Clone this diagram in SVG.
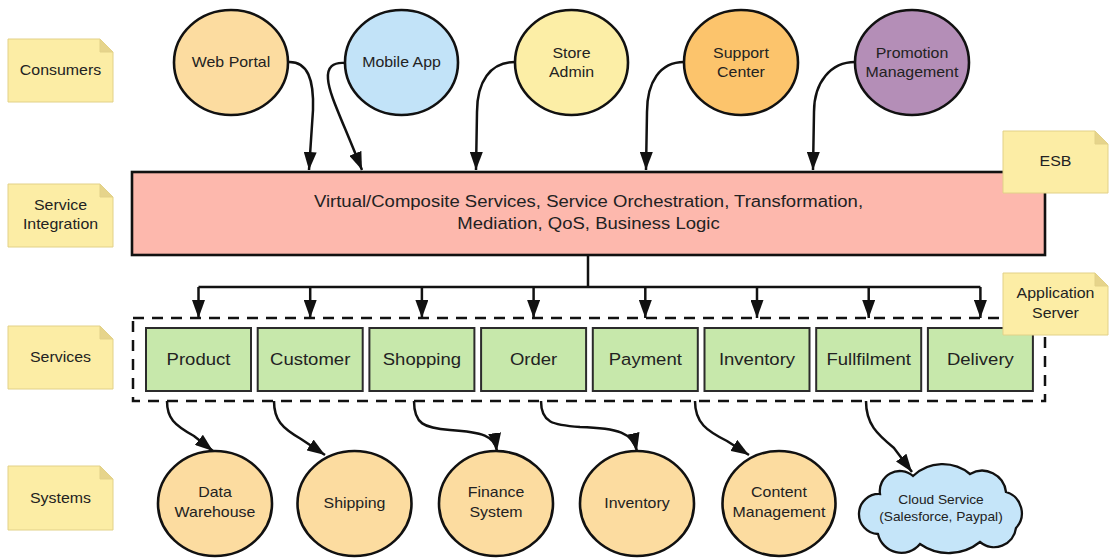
<svg xmlns="http://www.w3.org/2000/svg" width="1114" height="559" viewBox="0 0 1114 559">
<style>
.note{fill:#FCEDA5;stroke:#E2D188;stroke-width:1}
.fold{fill:#E6D48B;stroke:#E2D188;stroke-width:1}
.circ{stroke:#111;stroke-width:2.6}
.svc{fill:#C7E8AB;stroke:#2b2b2b;stroke-width:2}
.conn{fill:none;stroke:#111;stroke-width:2.5;marker-end:url(#ah)}
.line{fill:none;stroke:#111;stroke-width:2.5}
text{font-family:"Liberation Sans",Arial,sans-serif;fill:#222;text-anchor:middle;transform-box:fill-box;transform-origin:center;transform:scaleX(1.09)}
.t15{font-size:14.6px}
.t17{font-size:17px}
.t13{font-size:12.6px}
</style>
<defs>
<marker id="ah" viewBox="0 0 18 13" refX="18" refY="6.5" markerWidth="18" markerHeight="13" markerUnits="userSpaceOnUse" orient="auto">
<path d="M0,0 L18,6.5 L0,13 Z" fill="#111"/>
</marker>
</defs>

<g id="connectors">
<path class="conn" d="M288,62 C308,61 314,80 313,110 L309,170"/>
<path class="conn" d="M345,63 C333,62 327,67 328,79 C329,94 340,115 362,170"/>
<path class="conn" d="M515,62 C490,62 477,82 477,112 L476,170"/>
<path class="conn" d="M684,62 C660,62 647,82 647,112 L646,170"/>
<path class="conn" d="M855,62 C831,62 814,82 814,112 L813,170"/>
<path class="line" d="M588,255 V287"/>
<path class="line" d="M198.5,287 H980.4"/>
<path class="conn" d="M198.5,287 V318"/>
<path class="conn" d="M310.2,287 V318"/>
<path class="conn" d="M421.9,287 V318"/>
<path class="conn" d="M533.6,287 V318"/>
<path class="conn" d="M645.3,287 V318"/>
<path class="conn" d="M757,287 V318"/>
<path class="conn" d="M868.7,287 V318"/>
<path class="conn" d="M980.4,287 V318"/>
<path class="conn" d="M167,401 C167,418 174,425 194,436 L213,451"/>
<path class="conn" d="M274,401 C274,420 282,428 301,439 L325,455"/>
<path class="conn" d="M414,401 C414,424 424,428 450,430 C482,432 495,436 497,451"/>
<path class="conn" d="M541,401 C541,423 553,425 580,427 C618,428 633,433 637,451"/>
<path class="conn" d="M695,401 C695,423 707,431 727,441 L749,455"/>
<path class="conn" d="M866,401 C866,424 877,434 894,448 L912,472"/>
</g>

<g id="esb-bus">
<rect x="132" y="172" width="913" height="83" fill="#FDB8AD" stroke="#111" stroke-width="2.6"/>
<text class="t17" x="588.5" y="207">Virtual/Composite Services, Service Orchestration, Transformation,</text>
<text class="t17" x="588.5" y="229">Mediation, QoS, Business Logic</text>
</g>

<g id="app-server-box">
<rect x="133" y="318" width="912" height="83" fill="none" stroke="#111" stroke-width="2.5" stroke-dasharray="11 8"/>
</g>

<g id="web-portal"><ellipse class="circ" cx="231" cy="62.5" rx="57" ry="52.5" fill="#FCDCA0"/><text class="t15" x="231" y="67.5">Web Portal</text></g>
<g id="mobile-app"><ellipse class="circ" cx="401.5" cy="62.5" rx="56.5" ry="52.5" fill="#C2E3F8"/><text class="t15" x="401.5" y="67.5">Mobile App</text></g>
<g id="store-admin"><ellipse class="circ" cx="571.5" cy="62.5" rx="56.5" ry="52.5" fill="#FCEEA6"/><text class="t15" x="571.5" y="58">Store</text><text class="t15" x="571.5" y="77">Admin</text></g>
<g id="support-center"><ellipse class="circ" cx="741" cy="62.5" rx="57" ry="52.5" fill="#FCC46C"/><text class="t15" x="741" y="58">Support</text><text class="t15" x="741" y="77">Center</text></g>
<g id="promotion-management"><ellipse class="circ" cx="912" cy="62.5" rx="57" ry="52.5" fill="#B48EB7"/><text class="t15" x="912" y="58">Promotion</text><text class="t15" x="912" y="77">Management</text></g>

<g id="svc-product"><rect class="svc" x="146" y="328" width="105" height="63"/><text class="t17" x="198.5" y="365.5">Product</text></g>
<g id="svc-customer"><rect class="svc" x="257.7" y="328" width="105" height="63"/><text class="t17" x="310.2" y="365.5">Customer</text></g>
<g id="svc-shopping"><rect class="svc" x="369.4" y="328" width="105" height="63"/><text class="t17" x="421.9" y="365.5">Shopping</text></g>
<g id="svc-order"><rect class="svc" x="481.1" y="328" width="105" height="63"/><text class="t17" x="533.6" y="365.5">Order</text></g>
<g id="svc-payment"><rect class="svc" x="592.8" y="328" width="105" height="63"/><text class="t17" x="645.3" y="365.5">Payment</text></g>
<g id="svc-inventory"><rect class="svc" x="704.5" y="328" width="105" height="63"/><text class="t17" x="757" y="365.5">Inventory</text></g>
<g id="svc-fullfilment"><rect class="svc" x="816.2" y="328" width="105" height="63"/><text class="t17" x="868.7" y="365.5">Fullfilment</text></g>
<g id="svc-delivery"><rect class="svc" x="927.9" y="328" width="105" height="63"/><text class="t17" x="980.4" y="365.5">Delivery</text></g>

<g id="sys-data-warehouse"><ellipse class="circ" cx="215" cy="503.5" rx="57" ry="52.5" fill="#FCDCA0"/><text class="t15" x="215" y="497">Data</text><text class="t15" x="215" y="517">Warehouse</text></g>
<g id="sys-shipping"><ellipse class="circ" cx="354.5" cy="503.5" rx="57" ry="52.5" fill="#FCDCA0"/><text class="t15" x="354.5" y="508.5">Shipping</text></g>
<g id="sys-finance"><ellipse class="circ" cx="496" cy="503.5" rx="57" ry="52.5" fill="#FCDCA0"/><text class="t15" x="496" y="497">Finance</text><text class="t15" x="496" y="517">System</text></g>
<g id="sys-inventory"><ellipse class="circ" cx="637" cy="503.5" rx="57" ry="52.5" fill="#FCDCA0"/><text class="t15" x="637" y="508.5">Inventory</text></g>
<g id="sys-content"><ellipse class="circ" cx="779" cy="503.5" rx="56.5" ry="52.5" fill="#FCDCA0"/><text class="t15" x="779" y="497">Content</text><text class="t15" x="779" y="517">Management</text></g>
<g id="sys-cloud">
<path transform="translate(858,462)" d="M22,32 A20,20 0 0 1 55,14 A43,43 0 0 1 112,12 A24,24 0 0 1 148,30 A22,22 0 0 1 158,66 A22,22 0 0 1 122,80 A50,50 0 0 1 62,82 A24,24 0 0 1 20,72 A20,20 0 0 1 22,32 Z" fill="#C5E5F9" stroke="#111" stroke-width="2.3"/>
<text class="t13" x="941" y="504.5">Cloud Service</text>
<text class="t13" x="941" y="521.5">(Salesforce, Paypal)</text>
</g>

<g id="note-consumers"><path class="note" d="M8,39 H100 L113,52 V102 H8 Z"/><path class="fold" d="M100,39 V52 H113 Z"/><text class="t15" x="60.5" y="75.5">Consumers</text></g>
<g id="note-service-integration"><path class="note" d="M8,184 H100 L113,197 V247 H8 Z"/><path class="fold" d="M100,184 V197 H113 Z"/><text class="t15" x="60.5" y="210">Service</text><text class="t15" x="60.5" y="229.5">Integration</text></g>
<g id="note-services"><path class="note" d="M8,326 H100 L113,339 V389 H8 Z"/><path class="fold" d="M100,326 V339 H113 Z"/><text class="t15" x="60.5" y="362.5">Services</text></g>
<g id="note-systems"><path class="note" d="M8,466 H100 L113,479 V530 H8 Z"/><path class="fold" d="M100,466 V479 H113 Z"/><text class="t15" x="60.5" y="503">Systems</text></g>
<g id="note-esb"><path class="note" d="M1003,131 H1095 L1108,144 V193 H1003 Z"/><path class="fold" d="M1095,131 V144 H1108 Z"/><text class="t15" x="1055.5" y="166">ESB</text></g>
<g id="note-app-server"><path class="note" d="M1003,273 H1095 L1108,286 V335 H1003 Z"/><path class="fold" d="M1095,273 V286 H1108 Z"/><text class="t15" x="1055.5" y="298.5">Application</text><text class="t15" x="1055.5" y="318">Server</text></g>
</svg>
